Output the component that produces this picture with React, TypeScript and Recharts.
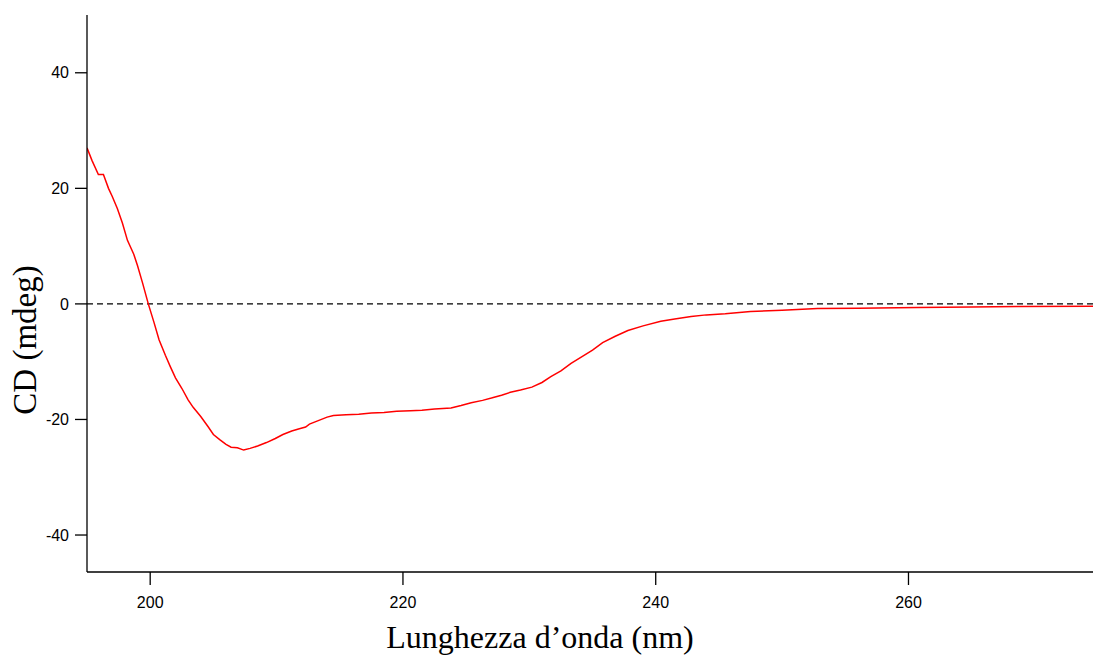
import React from 'react';
import { LineChart, Line, XAxis, YAxis, ReferenceLine } from 'recharts';

// CD spectrum: wavelength (nm) vs ellipticity (mdeg)
const wavelengths = [
  195.0, 195.4, 195.9, 196.3, 196.7, 197.0, 197.4, 197.8, 198.2, 198.7,
  199.0, 199.4, 199.85, 200.3, 200.7, 201.2, 201.6, 202.0, 202.5, 203.0,
  203.4, 204.0, 204.6, 205.0, 205.5, 206.0, 206.4, 206.9, 207.4, 207.9,
  208.5, 209.2, 209.9, 210.5, 211.2, 211.8, 212.3, 212.6, 213.3, 214.0,
  214.5, 215.5, 216.5, 217.5, 218.5, 219.5, 220.6, 221.5, 222.5, 223.8,
  224.6, 225.4, 226.3, 227.0, 227.8, 228.5, 229.3, 230.2, 231.0, 231.7,
  232.5, 233.3, 234.2, 235.0, 235.8, 236.8, 237.8, 239.0, 240.4, 241.5,
  242.8, 244.0, 245.5, 247.5, 250.0, 252.8, 256.0, 260.7, 265.0, 268.6,
  274.6,
];

const cdValues = [
  27.0, 24.8, 22.4, 22.4, 20.0, 18.6, 16.5, 14.0, 11.0, 8.6,
  6.6, 3.6, 0.0, -3.2, -6.2, -8.9, -10.9, -12.8, -14.6, -16.6,
  -17.9, -19.5, -21.3, -22.6, -23.5, -24.3, -24.8, -24.9, -25.3, -25.0,
  -24.6, -24.0, -23.3, -22.6, -22.0, -21.6, -21.3, -20.8, -20.2, -19.6,
  -19.3, -19.2, -19.1, -18.9, -18.8, -18.6, -18.5, -18.4, -18.2, -18.0,
  -17.6, -17.1, -16.7, -16.3, -15.8, -15.3, -14.9, -14.4, -13.6, -12.6,
  -11.6, -10.3, -9.1, -8.0, -6.7, -5.6, -4.6, -3.8, -3.0, -2.6,
  -2.2, -1.9, -1.7, -1.3, -1.1, -0.8, -0.75, -0.64, -0.55, -0.47,
  -0.4,
];

const xTicks = [200, 220, 240, 260];
const yTicks = [-40, -20, 0, 20, 40];

const spectrum = wavelengths.map((wl, i) => ({ wl, cd: cdValues[i] }));

const sans = 'Liberation Sans, Arial, sans-serif';
const serif = 'Liberation Serif, Times New Roman, serif';

export default function App() {
  return (
    <div style={{ position: 'absolute', left: 0, top: 0, background: '#fff' }}>
      <LineChart
        width={1093}
        height={657}
        data={spectrum}
        margin={{ top: 15, right: 0, bottom: 0, left: 0 }}
      >
        <XAxis
          dataKey="wl"
          type="number"
          domain={[195, 274.6]}
          ticks={xTicks}
          allowDataOverflow
          height={85}
          tickSize={13}
          tickMargin={12}
          stroke="#000"
          strokeWidth={1.3}
          tick={{ fill: '#000', fontSize: 16, fontFamily: sans }}
          label={({ viewBox }: any) => (
            <text
              x={viewBox.x + viewBox.width / 2 - 50}
              y={648}
              textAnchor="middle"
              fontFamily={serif}
              fontSize={32}
              fill="#000"
            >
              Lunghezza d’onda (nm)
            </text>
          )}
        />
        <YAxis
          type="number"
          domain={[-46.4, 50]}
          ticks={yTicks}
          allowDataOverflow
          width={87}
          tickSize={12}
          tickMargin={6}
          stroke="#000"
          strokeWidth={1.3}
          tick={{ fill: '#000', fontSize: 16, fontFamily: sans }}
          label={() => (
            <text
              x={36}
              y={340}
              transform="rotate(-90, 36, 340)"
              textAnchor="middle"
              fontFamily={serif}
              fontSize={33}
              fill="#000"
            >
              CD (mdeg)
            </text>
          )}
        />
        <ReferenceLine y={0} stroke="#000" strokeWidth={1.4} strokeDasharray="6 4" />
        <Line
          type="linear"
          dataKey="cd"
          stroke="#ff0000"
          strokeWidth={1.5}
          dot={false}
          isAnimationActive={false}
        />
      </LineChart>
    </div>
  );
}
